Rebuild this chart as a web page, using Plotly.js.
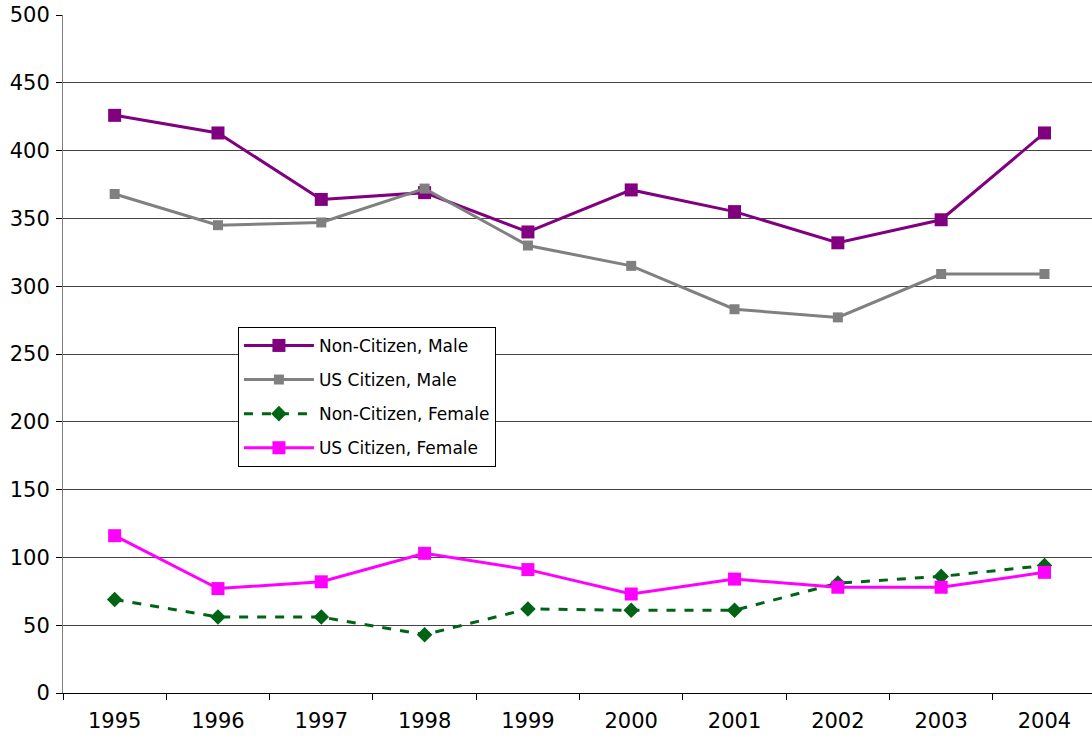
<!DOCTYPE html>
<html>
<head>
<meta charset="utf-8">
<script src="https://cdn.plot.ly/plotly-3.0.1.min.js"></script>
<style>html,body{margin:0;padding:0;background:#fff;overflow:hidden}</style>
</head>
<body>
<div id="chart" style="width:1092px;height:738px"></div>
<script>
const years = ["1995","1996","1997","1998","1999","2000","2001","2002","2003","2004"];
const nonCitizenMale = [426, 413, 364, 369, 340, 371, 355, 332, 349, 413];
const usCitizenMale = [368, 345, 347, 372, 330, 315, 283, 277, 309, 309];
const nonCitizenFemale = [69, 56, 56, 43, 62, 61, 61, 81, 86, 94];
const usCitizenFemale = [116, 77, 82, 103, 91, 73, 84, 78, 78, 89];

const traces = [
  {name: "Non-Citizen, Male", y: nonCitizenMale, color: "#800080", symbol: "square", size: 13, dash: "solid", lg: "a"},
  {name: "US Citizen, Male", y: usCitizenMale, color: "#808080", symbol: "square", size: 10, dash: "solid", lg: "b"},
  {name: "Non-Citizen, Female", y: nonCitizenFemale, color: "#006414", symbol: "diamond", size: 12, dash: "dash", lg: "c"},
  {name: "US Citizen, Female", y: usCitizenFemale, color: "#FF00FF", symbol: "square", size: 13, dash: "solid", lg: "d"}
].map(t => ({
  type: "scatter", mode: "lines+markers", x: years, y: t.y, name: t.name, legendgroup: t.lg,
  line: {color: t.color, width: 3, dash: t.dash},
  marker: {color: t.color, symbol: t.symbol, size: t.size}
}));

const layout = {
  width: 1092, height: 738,
  margin: {l: 63, r: 0, t: 15, b: 45},
  paper_bgcolor: "#fff", plot_bgcolor: "#fff",
  font: {family: "DejaVu Sans, Verdana, sans-serif", color: "#000", size: 21},
  showlegend: true,
  legend: {
    x: 0.17, y: 0.54, xanchor: "left", yanchor: "top",
    bordercolor: "#000", borderwidth: 1, bgcolor: "#fff",
    font: {size: 17, family: "DejaVu Sans, Verdana, sans-serif"},
    tracegroupgap: 9, traceorder: "grouped", itemwidth: 70
  },
  xaxis: {
    type: "category", range: [-0.5, 9.46],
    showgrid: false, showline: true, linecolor: "#000", linewidth: 1,
    ticks: "outside", tickson: "boundaries", ticklen: 6, tickcolor: "#000",
    tickfont: {size: 21}, ticklabelstandoff: 9, zeroline: false, fixedrange: true
  },
  yaxis: {
    range: [0, 500], dtick: 50, tick0: 0,
    showgrid: true, gridcolor: "#444", gridwidth: 1,
    showline: true, linecolor: "#808080", linewidth: 1,
    ticks: "outside", ticklen: 6, tickcolor: "#000",
    tickfont: {size: 21}, ticklabelstandoff: 2, zeroline: false
  }
};

Plotly.newPlot("chart", traces, layout, {displayModeBar: false, staticPlot: true});
</script>
</body>
</html>
